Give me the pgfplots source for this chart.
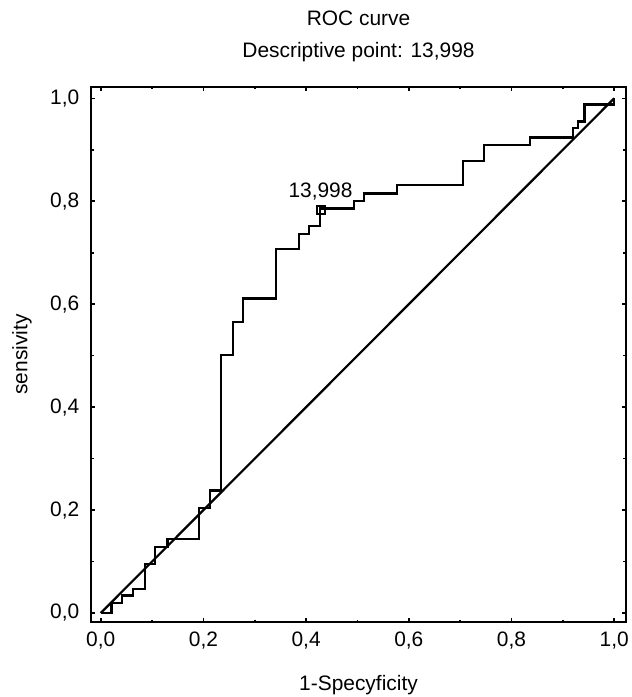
\documentclass[border=0pt]{standalone}
\usepackage{fontspec}
\setmainfont{Liberation Sans}
\usepackage{pgfplots}
\pgfplotsset{compat=1.18}
\begin{document}
\fontsize{21}{25}\selectfont
\begin{tikzpicture}
\useasboundingbox (-91.5bp,-75bp) rectangle (540.5bp,622bp);
\begin{axis}[
  at={(0,0)}, anchor=south west,
  scale only axis, width=534bp, height=535bp,
  xmin=-0.018, xmax=1.022, ymin=-0.0175, ymax=1.022,
  axis line style={line width=2bp, black},
  tick style={line width=1.6bp, black},
  major tick length=4bp, minor tick length=2.5bp,
  tick align=inside, xtick pos=both, ytick pos=both,
  xtick={0,0.2,0.4,0.6,0.8,1.0}, ytick={0,0.2,0.4,0.6,0.8,1.0},
  minor x tick num=1, minor y tick num=1,
  /pgf/number format/assume math mode=true,
  /pgf/number format/.cd, fixed, fixed zerofill, precision=1, use comma, /pgfplots/.cd,
  ticklabel style={font=\fontsize{21}{25}\selectfont},
  xticklabel style={yshift=-3bp},
  yticklabel style={xshift=-5bp},
  xlabel={1-Specyficity}, ylabel={sensivity},
  xlabel style={at={(axis description cs:0.5,-0.118)}, anchor=center, font=\fontsize{21}{25}\selectfont},
  ylabel style={at={(axis description cs:-0.130,0.5)}, anchor=center, font=\fontsize{21}{25}\selectfont},
  clip=false,
]
\addplot[black, line width=2.2bp] coordinates {(0,0) (1,1)};
\addplot[black, line width=2.2bp] coordinates {
(0,0) (0.021,0) (0.021,0.019) (0.042,0.019) (0.042,0.034) (0.063,0.034) (0.063,0.047)
(0.086,0.047) (0.086,0.095) (0.105,0.095) (0.105,0.128) (0.130,0.128) (0.130,0.143)
(0.192,0.143) (0.192,0.204) (0.213,0.204) (0.213,0.238) (0.234,0.238) (0.234,0.502)
(0.257,0.502) (0.257,0.566) (0.277,0.566) (0.277,0.611) (0.342,0.611) (0.342,0.708)
(0.386,0.708) (0.386,0.736) (0.406,0.736) (0.406,0.752) (0.427,0.752) (0.427,0.786)
(0.493,0.786) (0.493,0.800) (0.513,0.800) (0.513,0.815) (0.577,0.815) (0.577,0.831)
(0.706,0.831) (0.706,0.878) (0.747,0.878) (0.747,0.910) (0.836,0.910) (0.836,0.924)
(0.919,0.924) (0.919,0.943) (0.929,0.943) (0.929,0.955) (0.942,0.955) (0.942,0.988)
(1.0,0.988) (1.0,1.0)};
\addplot[black, only marks, mark=square, mark size=4bp, mark options={line width=2bp, fill=white},
  nodes near coords={13,998}, every node near coord/.style={anchor=south, yshift=2bp, font=\fontsize{21}{25}\selectfont}]
  coordinates {(0.428,0.783)};
\node[anchor=center] at (axis description cs:0.5,1.129) {ROC curve};
\node[anchor=center] at (axis description cs:0.5,1.065) {Descriptive point: 13,998};
\end{axis}
\end{tikzpicture}
\end{document}
